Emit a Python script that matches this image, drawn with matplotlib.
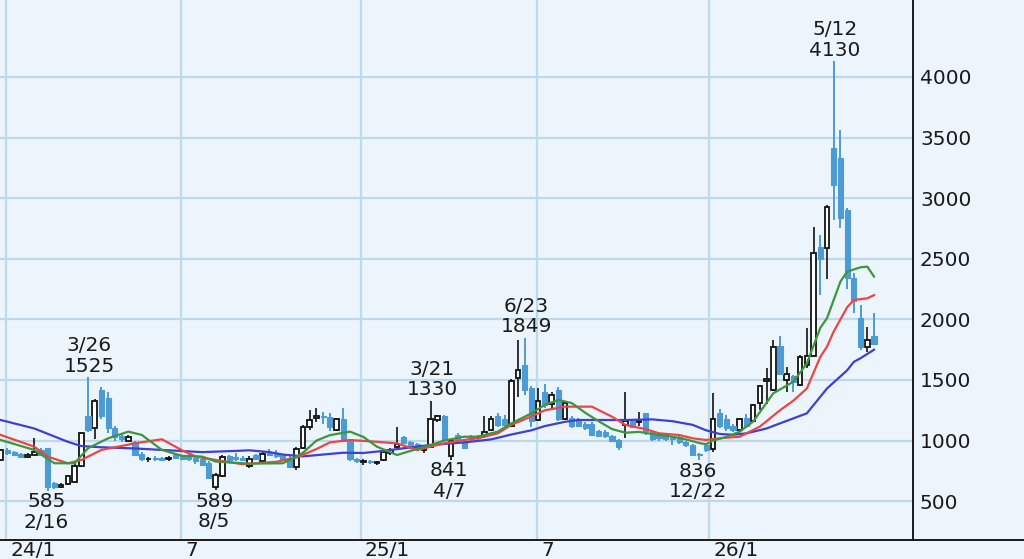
import numpy as np
import matplotlib
matplotlib.use("Agg")
import matplotlib.pyplot as plt
from matplotlib.lines import Line2D
import matplotlib.transforms as mtransforms

# Weekly candles, week index 0 = first week of Jan 2024
first_week = -1
opens = [840, 920, 905, 890, 865, 885, 920, 935, 650, 620, 640, 660, 790, 1200, 1100, 1420, 1350, 1100, 1040, 995,
         990, 890, 845, 860, 858, 848, 880, 875, 880, 860, 850, 815, 620, 710, 870, 865, 860, 790, 880, 835,
         910, 895, 880, 860, 780, 940, 1110, 1190, 1200, 1195, 1090, 1180, 1000, 850, 825, 830, 815, 840, 900, 950,
         1030, 990, 970, 920, 950, 1170, 1200, 870, 1050, 990, 1040, 1040, 1035, 1090, 1200, 1180, 1120, 1520, 1620, 1430,
         1170, 1400, 1300, 1420, 1180, 1190, 1180, 1140, 1140, 1080, 1070, 1040, 1005, 1130, 1160, 1150, 1225, 1075, 1050, 1040,
         1020, 1030, 990, 960, 885, 960, 930, 1230, 1180, 1120, 1090, 1190, 1160, 1310, 1490, 1420, 1780, 1500, 1530, 1460,
         1620, 1700, 2600, 2590, 3410, 3330, 2900, 2340, 2010, 1770, 1860]
highs = [930, 935, 915, 900, 895, 1020, 940, 940, 660, 650, 720, 830, 1070, 1525, 1345, 1445, 1400, 1120, 1060, 1045,
         1000, 910, 865, 870, 868, 870, 890, 885, 890, 870, 860, 830, 730, 880, 880, 900, 870, 870, 890, 910,
         930, 920, 890, 870, 950, 1130, 1250, 1270, 1240, 1230, 1190, 1270, 1010, 860, 845, 840, 835, 920, 940, 1115,
         1040, 1000, 980, 960, 1330, 1215, 1210, 1010, 1060, 1000, 1050, 1050, 1200, 1200, 1230, 1210, 1510, 1830, 1849, 1450,
         1430, 1470, 1400, 1440, 1320, 1200, 1190, 1150, 1150, 1090, 1090, 1050, 1010, 1400, 1180, 1240, 1230, 1080, 1060, 1050,
         1040, 1040, 1000, 970, 895, 970, 1390, 1260, 1210, 1140, 1190, 1220, 1300, 1460, 1600, 1830, 1860, 1610, 1540, 1710,
         1930, 2760, 2700, 2940, 4130, 3560, 2920, 2380, 2120, 1940, 2050]
lows = [830, 885, 875, 855, 860, 880, 870, 585, 600, 610, 630, 650, 780, 1070, 1010, 1180, 1060, 1000, 990, 985,
        870, 830, 820, 835, 830, 835, 845, 840, 835, 810, 790, 680, 589, 700, 830, 835, 830, 770, 840, 825,
        870, 860, 830, 770, 760, 930, 1090, 1150, 1140, 1080, 1080, 990, 830, 815, 800, 805, 800, 830, 880, 940,
        970, 950, 935, 900, 940, 1150, 1000, 841, 990, 930, 1000, 1000, 1020, 1080, 1110, 1110, 1110, 1360, 1380, 1110,
        1160, 1270, 1265, 1160, 1170, 1100, 1110, 1090, 1040, 1030, 1020, 990, 923, 1020, 1100, 1120, 1050, 1000, 1000, 1000,
        960, 975, 950, 880, 836, 910, 905, 1100, 1080, 1070, 1080, 1110, 1150, 1250, 1300, 1410, 1540, 1400, 1400, 1450,
        1600, 1690, 2200, 2330, 2820, 2750, 2250, 2050, 1750, 1730, 1790]
closes = [920, 900, 885, 865, 885, 905, 880, 620, 615, 635, 710, 790, 1060, 1090, 1330, 1200, 1100, 1030, 1010, 1030,
          880, 845, 850, 848, 840, 855, 855, 850, 845, 830, 800, 690, 715, 865, 840, 845, 840, 850, 850, 890,
          880, 870, 840, 780, 930, 1110, 1170, 1200, 1195, 1110, 1180, 1000, 850, 830, 828, 825, 822, 905, 920, 975,
          980, 960, 950, 950, 1180, 1200, 1010, 1000, 1005, 940, 1010, 1020, 1070, 1180, 1130, 1130, 1490, 1580, 1420, 1160,
          1330, 1290, 1375, 1180, 1310, 1120, 1120, 1100, 1050, 1040, 1035, 1000, 950, 1165, 1110, 1160, 1080, 1010, 1020, 1010,
          1015, 985, 960, 885, 880, 925, 1180, 1120, 1100, 1090, 1180, 1120, 1290, 1450, 1510, 1770, 1550, 1550, 1480, 1690,
          1700, 2545, 2500, 2930, 3110, 2840, 2340, 2150, 1770, 1830, 1800]

# Moving averages (13, 26 and 52 weeks)
ma13_weeks = [-1, 4, 7, 10, 12, 15, 18, 20, 23, 26, 29, 31, 36, 41, 43, 44, 46, 48, 51, 53, 55, 58, 60, 63, 65, 68,
              70, 73, 75, 78, 80, 82, 84, 86, 88, 90, 92, 94, 97, 99, 101, 103, 104, 105, 107, 109, 111, 114, 117,
              119, 121, 122, 124, 125, 127, 128, 129]
ma13_vals = [1005, 923, 813, 813, 937, 1019, 1074, 1047, 923, 874, 868, 827, 810, 813, 867, 900, 1000, 1045, 1074,
             1030, 950, 881, 915, 964, 1000, 1032, 1032, 1074, 1142, 1225, 1295, 1335, 1310, 1230, 1160, 1095, 1065,
             1072, 1046, 1032, 1010, 980, 970, 1000, 1030, 1074, 1156, 1390, 1486, 1637, 1930, 2010, 2312, 2394,
             2430, 2435, 2353]
ma26_weeks = [-1, 4, 6, 9, 11, 14, 19, 23, 26, 28, 31, 35, 40, 43, 46, 48, 51, 55, 58, 61, 63, 65, 68, 70, 73, 75,
              78, 80, 83, 87, 90, 92, 95, 97, 100, 102, 104, 106, 109, 112, 115, 117, 119, 121, 122, 123, 125, 126,
              128, 129]
ma26_vals = [1047, 950, 868, 813, 840, 923, 978, 1011, 920, 870, 840, 805, 825, 860, 930, 985, 1005, 990, 977, 922,
             950, 977, 1005, 1019, 1060, 1129, 1200, 1250, 1280, 1280, 1197, 1129, 1095, 1060, 1046, 1019, 1005, 1019,
             1032, 1115, 1250, 1330, 1430, 1690, 1775, 1900, 2100, 2160, 2174, 2200]
ma52_weeks = [-1, 4, 9, 11, 14, 19, 24, 29, 34, 36, 39, 41, 44, 47, 50, 53, 56, 58, 63, 68, 72, 75, 78, 80, 83, 85,
              88, 92, 96, 99, 102, 104, 106, 108, 110, 113, 115, 119, 122, 125, 126, 127, 129]
ma52_vals = [1170, 1100, 990, 955, 945, 935, 920, 905, 915, 920, 905, 885, 870, 885, 900, 898, 915, 930, 964, 985,
             1010, 1050, 1085, 1120, 1155, 1170, 1170, 1170, 1175, 1160, 1130, 1085, 1055, 1048, 1060, 1100, 1142,
             1225, 1430, 1580, 1650, 1680, 1750]

# Period highs / lows marked on the chart
high_marks = {12: "3/26", 63: "3/21", 77: "6/23", 123: "5/12"}
low_marks = {6: "2/16", 31: "8/5", 66: "4/7", 103: "12/22"}

tick_weeks = [-0.2, 25.8, 52.6, 78.8, 104.5]
tick_labels = ["24/1", "7", "25/1", "7", "26/1"]
price_ticks = [500, 1000, 1500, 2000, 2500, 3000, 3500, 4000]

bg = "#edf5fc"
grid_c = "#bfd8ec"
down_c = "#4d9bd5"
ink = "#1a1a1a"

plt.rcParams["font.family"] = ["DejaVu Sans"]

fig = plt.figure(figsize=(10.24, 5.59), dpi=100)
fig.patch.set_facecolor(bg)
ax = fig.add_axes([0, 0.034, 0.8916, 0.966])
ax.set_facecolor(bg)

weeks = np.arange(first_week, first_week + len(opens))
o = np.array(opens)
h = np.array(highs)
l = np.array(lows)
c = np.array(closes)
up = c >= o
w = 0.76

# wicks
ax.vlines(weeks[up], l[up], h[up], color="#111111", lw=1.2, zorder=2)
ax.vlines(weeks[~up], l[~up], h[~up], color=down_c, lw=1.4, zorder=2)
# bodies
ax.bar(weeks[up], np.maximum(c[up] - o[up], 4), bottom=o[up], width=w - 0.08,
       facecolor="white", edgecolor="#111111", linewidth=1.3, zorder=3)
ax.bar(weeks[~up], np.maximum(o[~up] - c[~up], 6), bottom=c[~up], width=w,
       facecolor=down_c, edgecolor=down_c, linewidth=0.8, zorder=3)

ax.plot(ma52_weeks, ma52_vals, color="#3f3fd0", lw=1.6, zorder=4)
ax.plot(ma26_weeks, ma26_vals, color="#ec4545", lw=1.6, zorder=4)
ax.plot(ma13_weeks, ma13_vals, color="#3d953d", lw=1.6, zorder=4)

for wk, date in high_marks.items():
    val = highs[wk - first_week]
    ax.annotate(f"{date}\n{val}", (wk, val), xytext=(1, 1), textcoords="offset points",
                ha="center", va="bottom", fontsize=14.5, color=ink, linespacing=1.1, zorder=5)
for wk, date in low_marks.items():
    val = lows[wk - first_week]
    ax.annotate(f"{val}\n{date}", (wk, val), xytext=(-1, -1), textcoords="offset points",
                ha="center", va="top", fontsize=14.5, color=ink, linespacing=1.1, zorder=5)

ax.set_xlim(-1.1, 134.8)
ax.set_ylim(180, 4635)

ax.set_xticks(tick_weeks)
ax.set_xticklabels(tick_labels, fontsize=14.5, color=ink)
ax.set_yticks(price_ticks)
ax.set_yticklabels([str(v) for v in price_ticks], fontsize=14.5, color=ink)
ax.yaxis.tick_right()
ax.tick_params(axis="both", length=0)
ax.tick_params(axis="y", pad=5)
ax.tick_params(axis="x", pad=1)
offset = mtransforms.ScaledTranslation(3 / 72, 0, fig.dpi_scale_trans)
for lbl in ax.get_xticklabels():
    lbl.set_horizontalalignment("left")
    lbl.set_transform(lbl.get_transform() + offset)

ax.grid(True, color=grid_c, lw=1.6, zorder=0)
ax.set_axisbelow(True)
for side in ["top", "left", "bottom"]:
    ax.spines[side].set_visible(False)
ax.spines["right"].set_color(ink)
ax.spines["right"].set_linewidth(1.4)

fig.add_artist(Line2D([0, 1], [0.034, 0.034], color=ink, lw=1.4, transform=fig.transFigure))

fig.savefig("out.png", dpi=100, facecolor=bg)
